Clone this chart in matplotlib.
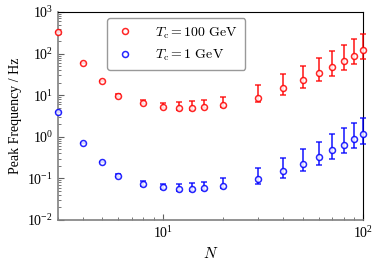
import matplotlib
matplotlib.use("Agg")
import matplotlib.pyplot as plt
from matplotlib.lines import Line2D
from matplotlib.ticker import LogLocator, NullFormatter

plt.rcParams["font.family"] = ["Liberation Serif", "DejaVu Serif"]
plt.rcParams["mathtext.fontset"] = "cm"

# numero de campos N
N = [3, 4, 5, 6, 8, 10, 12, 14, 16, 20, 30, 40, 50, 60, 70, 80, 90, 100]

# Tc = 100 GeV
f_100 = [325, 60, 21.5, 9.8, 6.4, 5.3, 4.85, 4.9, 5.2, 5.8, 8.7, 14.7, 22.8, 33.6, 47.6, 66, 89, 119]
f_100_hi = [325, 60, 21.5, 10.8, 7.5, 6.4, 6.7, 7.1, 7.5, 9.3, 17.6, 31.8, 51, 80, 117, 164, 221, 296]
f_100_lo = [325, 60, 21.5, 9.3, 6.0, 5.0, 4.5, 4.5, 4.8, 5.2, 6.7, 9.95, 15.1, 21.6, 29.4, 40, 55, 74]

# Tc = 1 GeV
f_1 = [3.9, 0.72, 0.25, 0.115, 0.072, 0.061, 0.055, 0.055, 0.058, 0.065, 0.095, 0.148, 0.225, 0.333, 0.473, 0.646, 0.87, 1.15]
f_1_hi = [3.9, 0.72, 0.25, 0.128, 0.086, 0.073, 0.073, 0.078, 0.083, 0.104, 0.181, 0.315, 0.50, 0.76, 1.15, 1.6, 2.15, 2.8]
f_1_lo = [3.9, 0.72, 0.25, 0.108, 0.066, 0.056, 0.050, 0.050, 0.053, 0.058, 0.073, 0.100, 0.151, 0.213, 0.292, 0.40, 0.54, 0.68]

fig = plt.figure(figsize=(3.81, 2.6), dpi=100)
ax = fig.add_axes([58 / 381, 40 / 260, 305 / 381, 208 / 260])

series = [
    (f_100, f_100_lo, f_100_hi, "red", r"$T_\mathrm{c} = 100\ \mathrm{GeV}$"),
    (f_1, f_1_lo, f_1_hi, "blue", r"$T_\mathrm{c} = 1\ \mathrm{GeV}$"),
]
handles = []
for y, lo, hi, cor, rotulo in series:
    err = [[a - b for a, b in zip(y, lo)], [b - a for a, b in zip(y, hi)]]
    ax.errorbar(N, y, yerr=err, fmt="o", color=cor, mfc="white", mec=cor,
                ms=4.3, mew=1.1, elinewidth=1.2, capsize=2.2, capthick=1.1,
                alpha=0.85, clip_on=False, zorder=3)
    handles.append(Line2D([], [], ls="none", marker="o", mfc="white", mec=cor,
                          ms=4.3, mew=1.1, alpha=0.85, label=rotulo))

ax.set_xscale("log")
ax.set_yscale("log")
ax.set_xlim(3, 100)
ax.set_ylim(1e-2, 1e3)
ax.yaxis.set_major_locator(LogLocator(base=10, numticks=10))
ax.yaxis.set_minor_locator(LogLocator(base=10, subs=range(2, 10), numticks=20))
ax.yaxis.set_minor_formatter(NullFormatter())
ax.xaxis.set_minor_formatter(NullFormatter())

ax.tick_params(which="both", direction="in", top=False, right=False, labelsize=10)
ax.tick_params(which="major", length=4, color="#606060")
ax.tick_params(which="minor", length=2, color="#606060")
ax.spines["left"].set_color("#808080")
ax.spines["bottom"].set_color("#808080")
ax.spines["left"].set_linewidth(1.2)
ax.spines["bottom"].set_linewidth(1.2)

ax.set_xlabel(r"$N$", fontsize=11)
ax.set_ylabel("Peak Frequency / Hz", fontsize=10)

ax.legend(handles=handles, loc="upper left", bbox_to_anchor=(0.16, 0.97), borderaxespad=0,
          fontsize=10, handlelength=1.6, handletextpad=1.4, borderpad=0.5, labelspacing=0.5,
          fancybox=True, edgecolor="#999999", framealpha=1)

fig.savefig("out.png", dpi=100)
